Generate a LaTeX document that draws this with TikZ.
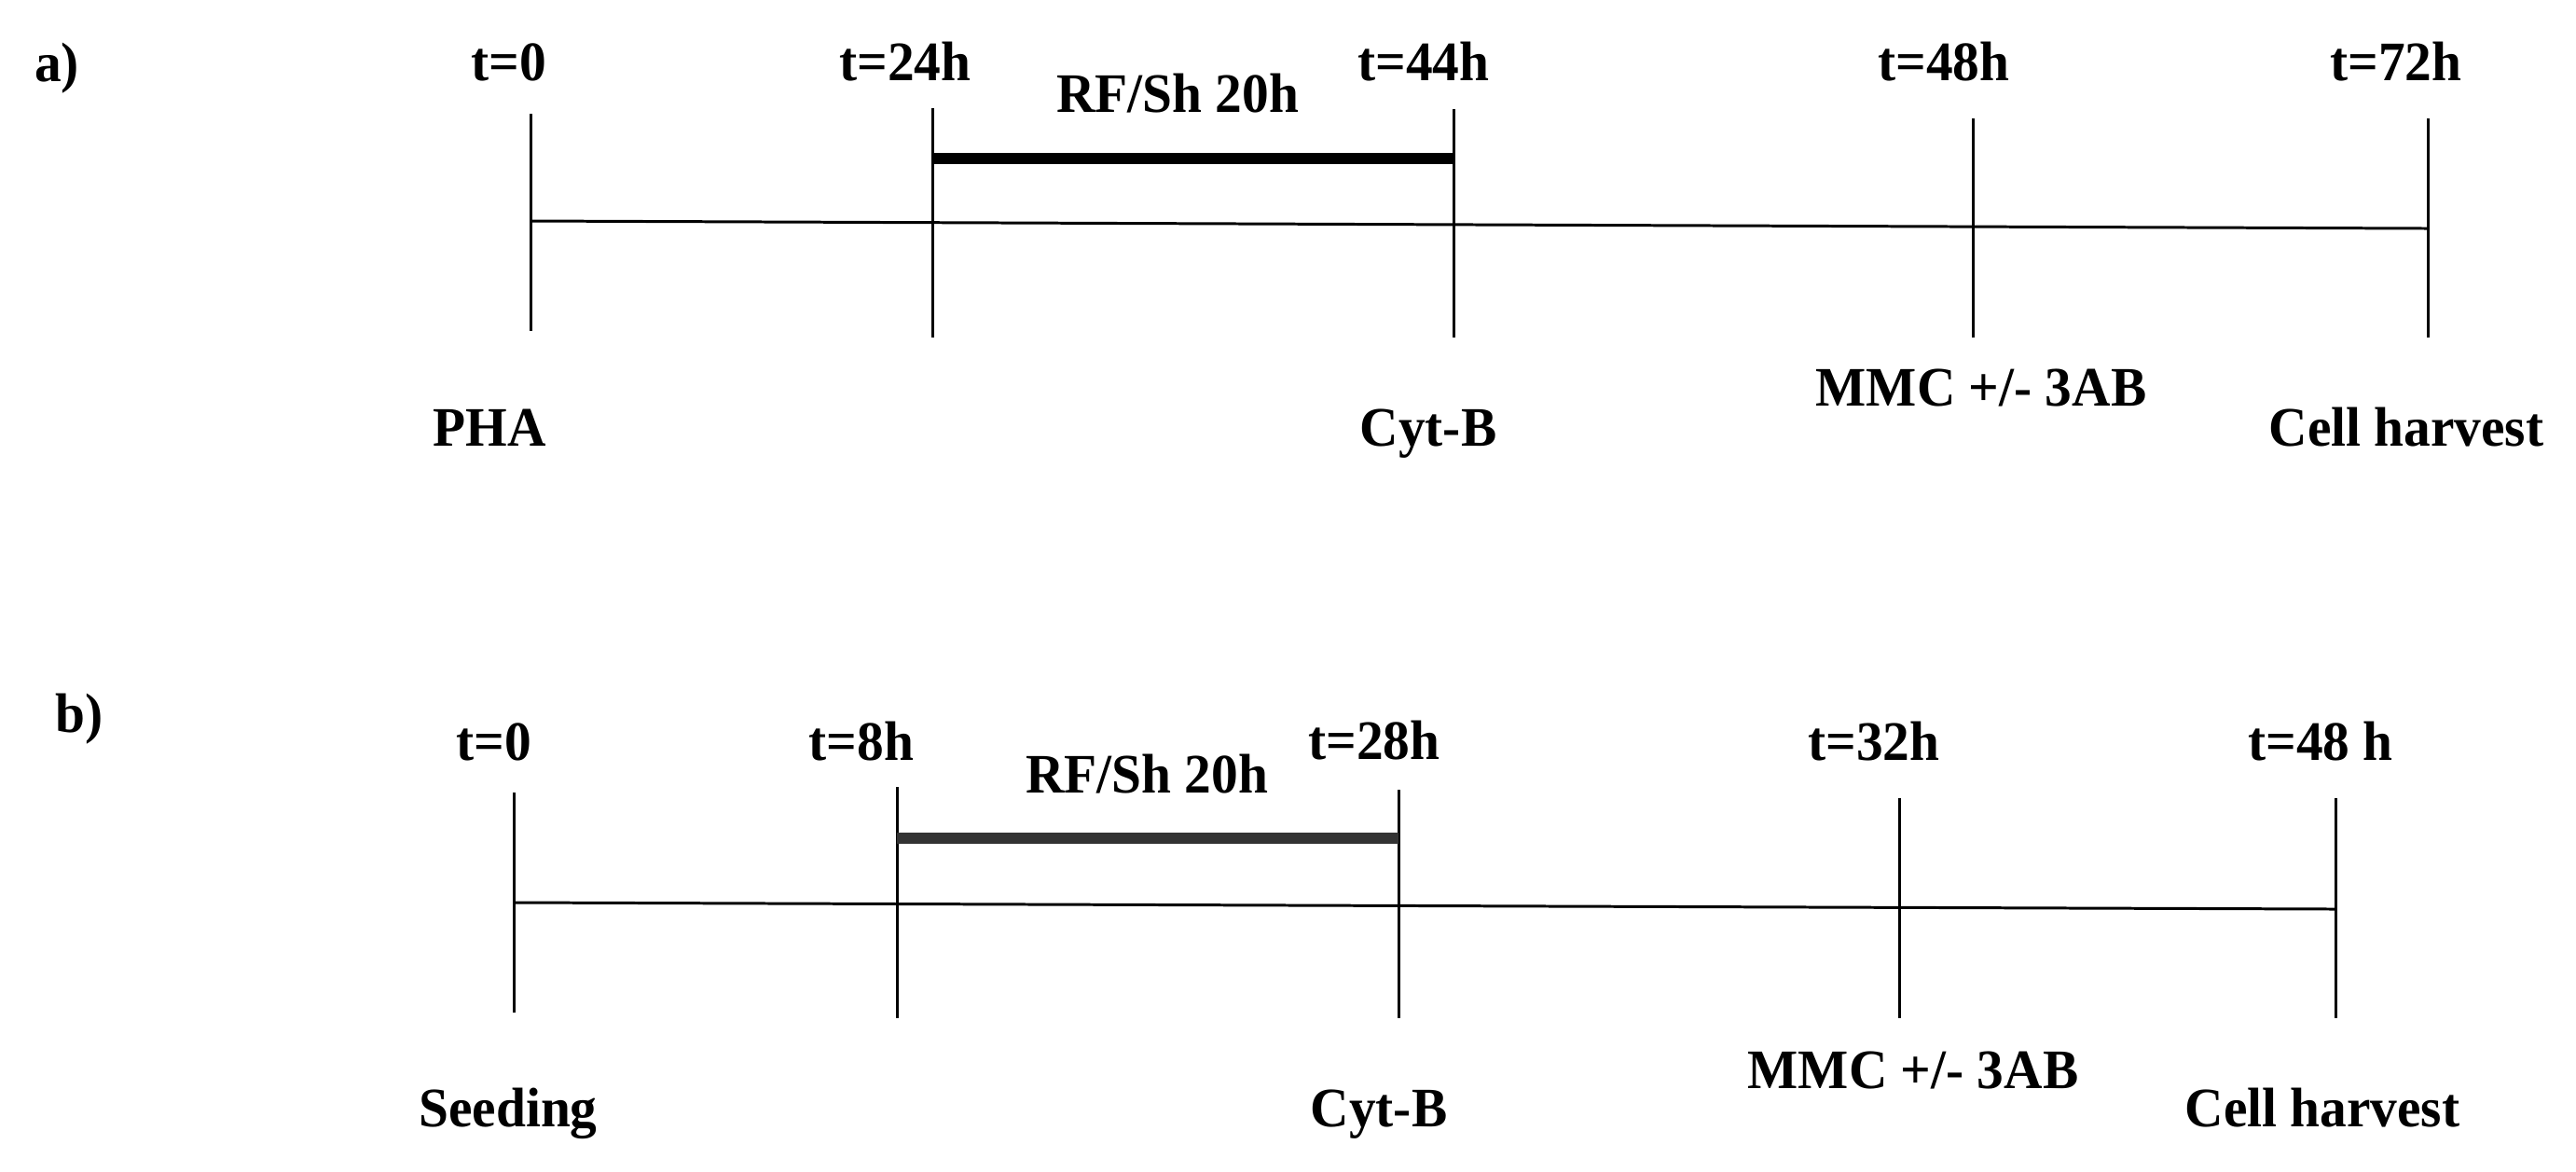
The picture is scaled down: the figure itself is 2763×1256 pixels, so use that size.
\documentclass[tikz,border=0pt]{standalone}
\usepackage{fontspec}
\setmainfont{Liberation Serif}[FakeStretch=0.96]
\begin{document}
\begin{tikzpicture}[x=0.01cm,y=-0.01cm,
  lbl/.style={font=\fontsize{17}{20}\selectfont\bfseries, anchor=base, inner sep=0pt},
  tickline/.style={line width=0.85pt, black},
  axisline/.style={line width=0.85pt, black},
  barline/.style={line width=3.6pt, black},
  barlineb/.style={line width=3.4pt, black!80}]
\useasboundingbox (0,0) rectangle (2763,1256);

% ---------------- panel a ----------------
\node[lbl] (pa) at (61,87) {a)};
\node[lbl] (a0) at (546,86) {t=0};
\node[lbl] (a24) at (971,86) {t=24h};
\node[lbl] (arf) at (1263,120) {RF/Sh 20h};
\node[lbl] (a44) at (1527,86) {t=44h};
\node[lbl] (a48) at (2085,86) {t=48h};
\node[lbl] (a72) at (2570,86) {t=72h};
\node[lbl] (apha) at (525,478) {PHA};
\node[lbl] (acyt) at (1532,478) {Cyt-B};
\node[lbl] (ammc) at (2125,435) {MMC +/- 3AB};
\node[lbl] (ach) at (2581,478) {Cell harvest};

\coordinate (a0t) at (569,122);   \coordinate (a0b) at (569,355);
\coordinate (a24t) at (1000,116); \coordinate (a24b) at (1000,362);
\coordinate (a44t) at (1559,117); \coordinate (a44b) at (1559,362);
\coordinate (a48t) at (2116,127); \coordinate (a48b) at (2116,362);
\coordinate (a72t) at (2604,127); \coordinate (a72b) at (2604,362);
\coordinate (aaxL) at (569,237);  \coordinate (aaxR) at (2604,245);
\coordinate (abarL) at (1000,170); \coordinate (abarR) at (1559,170);

\draw[tickline] (a0t) -- (a0b);
\draw[tickline] (a24t) -- (a24b);
\draw[tickline] (a44t) -- (a44b);
\draw[tickline] (a48t) -- (a48b);
\draw[tickline] (a72t) -- (a72b);
\draw[axisline] (aaxL) -- (aaxR);
\draw[barline] (abarL) -- (abarR);

% ---------------- panel b ----------------
\node[lbl] (pb) at (85,785) {b)};
\node[lbl] (b0) at (530,815) {t=0};
\node[lbl] (b8) at (924,815) {t=8h};
\node[lbl] (brf) at (1230,850) {RF/Sh 20h};
\node[lbl] (b28) at (1474,814) {t=28h};
\node[lbl] (b32) at (2010,815) {t=32h};
\node[lbl] (b48) at (2489,815) {t=48 h};
\node[lbl] (bseed) at (545,1208) {Seeding};
\node[lbl] (bcyt) at (1479,1208) {Cyt-B};
\node[lbl] (bmmc) at (2052,1167) {MMC +/- 3AB};
\node[lbl] (bch) at (2491,1208) {Cell harvest};

\coordinate (b0t) at (551,850);   \coordinate (b0b) at (551,1086);
\coordinate (b8t) at (962,844);   \coordinate (b8b) at (962,1092);
\coordinate (b28t) at (1500,847); \coordinate (b28b) at (1500,1092);
\coordinate (b32t) at (2037,856); \coordinate (b32b) at (2037,1092);
\coordinate (b48t) at (2505,856); \coordinate (b48b) at (2505,1092);
\coordinate (baxL) at (551,968);  \coordinate (baxR) at (2505,975);
\coordinate (bbarL) at (962,899); \coordinate (bbarR) at (1500,899);

\draw[tickline] (b0t) -- (b0b);
\draw[tickline] (b8t) -- (b8b);
\draw[tickline] (b28t) -- (b28b);
\draw[tickline] (b32t) -- (b32b);
\draw[tickline] (b48t) -- (b48b);
\draw[axisline] (baxL) -- (baxR);
\draw[barlineb] (bbarL) -- (bbarR);
\end{tikzpicture}
\end{document}
